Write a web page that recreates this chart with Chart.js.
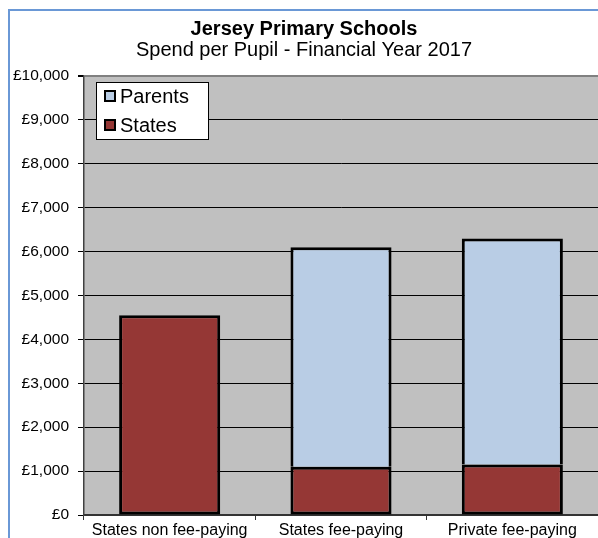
<!DOCTYPE html>
<html>
<head>
<meta charset="utf-8">
<script src="https://cdn.jsdelivr.net/npm/chart.js@4.4.0/dist/chart.umd.min.js"></script>
<style>
  body { margin: 0; background: #fff; }
  #wrap { position: relative; width: 598px; height: 538px; overflow: hidden; }
  #frame { position: absolute; left: 8px; top: 9px; width: 700px; height: 700px;
           border-left: 2px solid #6a98d6; border-top: 2px solid #6a98d6; }
  canvas { position: absolute; left: 0; top: 0; }
</style>
</head>
<body>
<div id="wrap">
  <div id="frame"></div>
  <canvas id="chart" width="598" height="538"></canvas>
</div>
<script>
// Spend per pupil, Jersey primary schools, 2017
var categories = ['States non fee-paying', 'States fee-paying', 'Private fee-paying'];
var statesSpend = [4550, 1100, 1150];
var parentsSpend = [null, 5000, 5150];

var FONT = '"Liberation Sans", Arial, sans-serif';

// grey plot area behind the bars
var plotBackground = {
  id: 'plotBackground',
  beforeDraw: function(chart) {
    var a = chart.chartArea, c = chart.ctx;
    c.save();
    c.fillStyle = '#c0c0c0';
    c.fillRect(a.left, a.top, a.right - a.left, a.bottom - a.top);
    c.restore();
  }
};

// boxed legend sitting inside the top-left of the plot
var boxLegend = {
  id: 'boxLegend',
  afterDraw: function(chart) {
    var c = chart.ctx;
    var items = chart.data.datasets.slice().reverse();
    var x = 96, y = 82, w = 112, h = 57;
    c.save();
    c.fillStyle = '#fff';
    c.fillRect(x, y, w, h);
    c.strokeStyle = '#000';
    c.lineWidth = 1;
    c.strokeRect(x + 0.5, y + 0.5, w, h);
    c.font = '20px ' + FONT;
    c.textBaseline = 'middle';
    items.forEach(function(ds, i) {
      var cy = y + 14 + i * 29;
      c.fillStyle = ds.backgroundColor;
      c.fillRect(x + 9, cy - 5, 10, 10);
      c.lineWidth = 2;
      c.strokeRect(x + 9, cy - 5, 10, 10);
      c.fillStyle = '#000';
      c.fillText(ds.label, x + 24, cy + 1);
    });
    c.restore();
  }
};

new Chart(document.getElementById('chart'), {
  type: 'bar',
  data: {
    labels: categories,
    datasets: [
      { label: 'States', data: statesSpend, backgroundColor: '#953735',
        borderColor: '#000', borderWidth: 3, borderSkipped: false },
      { label: 'Parents', data: parentsSpend, backgroundColor: '#b9cde5',
        borderColor: '#000', borderWidth: 3, borderSkipped: 'bottom' }
    ]
  },
  options: {
    responsive: false,
    animation: false,
    layout: { padding: { left: 10, right: 0, top: 0, bottom: 0 } },
    datasets: { bar: { categoryPercentage: 1, barPercentage: 0.59 } },
    plugins: {
      legend: { display: false },
      tooltip: { enabled: false },
      title: {
        display: true,
        text: 'Jersey Primary Schools',
        color: '#000',
        font: { family: FONT, size: 20, weight: 'bold', lineHeight: 1 },
        padding: { top: 19, bottom: 0 }
      },
      subtitle: {
        display: true,
        text: 'Spend per Pupil - Financial Year 2017',
        color: '#000',
        font: { family: FONT, size: 20, lineHeight: 1 },
        padding: { top: 1, bottom: 16 }
      }
    },
    scales: {
      x: {
        stacked: true,
        grid: { offset: true, drawOnChartArea: false, drawTicks: true, tickLength: 5, color: '#333' },
        border: { color: '#333', width: 2 },
        ticks: { color: '#000', font: { family: FONT, size: 16 }, padding: 1, maxRotation: 0 },
        afterFit: function(s) { s.height = 23; }
      },
      y: {
        stacked: true,
        min: 0,
        max: 10000,
        grid: {
          color: function(ctx) { return ctx.tick && ctx.tick.value === 10000 ? '#808080' : '#000'; },
          lineWidth: function(ctx) { return ctx.tick && ctx.tick.value === 10000 ? 2 : 1; },
          tickColor: '#000',
          tickLength: 6
        },
        border: { color: '#404040', width: 1.5 },
        ticks: {
          stepSize: 1000,
          color: '#000',
          font: { family: FONT, size: 15.5 },
          padding: 9,
          callback: function(v) { return '£' + v.toLocaleString('en-GB'); }
        },
        afterFit: function(s) { s.width = 74; }
      }
    }
  },
  plugins: [plotBackground, boxLegend]
});
</script>
</body>
</html>
